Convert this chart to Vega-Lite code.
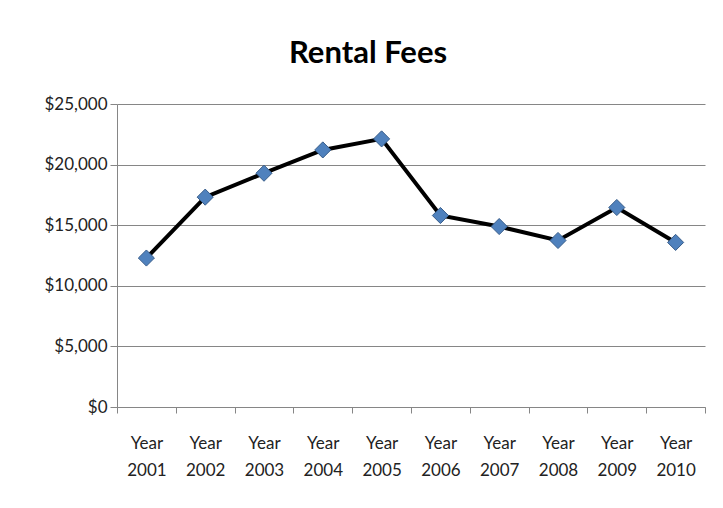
{
  "$schema": "https://vega.github.io/schema/vega-lite/v6.json",
  "autosize": {"type": "none"},
  "width": 588,
  "height": 303,
  "padding": {"left": 117, "top": 104, "right": 18, "bottom": 101},
  "background": "white",
  "title": {
    "text": "Rental Fees",
    "font": "Lato",
    "fontSize": 31,
    "fontWeight": "bold",
    "color": "#000000",
    "anchor": "middle",
    "dx": -43,
    "offset": 25
  },
  "data": {
    "values": [
      {"year": "Year 2001", "fees": 12290},
      {"year": "Year 2002", "fees": 17315},
      {"year": "Year 2003", "fees": 19290},
      {"year": "Year 2004", "fees": 21210},
      {"year": "Year 2005", "fees": 22120},
      {"year": "Year 2006", "fees": 15800},
      {"year": "Year 2007", "fees": 14890},
      {"year": "Year 2008", "fees": 13740},
      {"year": "Year 2009", "fees": 16460},
      {"year": "Year 2010", "fees": 13580}
    ]
  },
  "encoding": {
    "x": {
      "field": "year",
      "type": "ordinal",
      "sort": null,
      "scale": {"type": "band", "paddingInner": 0, "paddingOuter": 0},
      "axis": {
        "title": null,
        "labelAngle": 0,
        "labelExpr": "isString(datum.value) ? split(datum.value, ' ') : ''",
        "labelFont": "Lato",
        "labelFontSize": 17,
        "labelColor": "#222222",
        "labelLineHeight": 27,
        "labelPadding": 22,
        "labelBaseline": "top",
        "tickBand": "extent",
        "tickSize": 6,
        "tickColor": "#868686",
        "domainColor": "#868686",
        "grid": false
      }
    },
    "y": {
      "field": "fees",
      "type": "quantitative",
      "scale": {"domain": [0, 25000], "nice": false},
      "axis": {
        "title": null,
        "values": [0, 5000, 10000, 15000, 20000, 25000],
        "format": "$,.0f",
        "labelFont": "Lato",
        "labelFontSize": 17,
        "labelColor": "#222222",
        "labelPadding": 3,
        "tickSize": 7,
        "tickColor": "#868686",
        "domainColor": "#868686",
        "gridColor": "#868686",
        "gridOpacity": 1
      }
    }
  },
  "layer": [
    {"mark": {"type": "line", "color": "#000000", "strokeWidth": 4}},
    {"mark": {"type": "point", "shape": "diamond", "filled": true, "fill": "#4f81bd", "stroke": "#385d8a", "strokeWidth": 1, "size": 260, "opacity": 1}}
  ],
  "config": {"view": {"stroke": null}}
}
